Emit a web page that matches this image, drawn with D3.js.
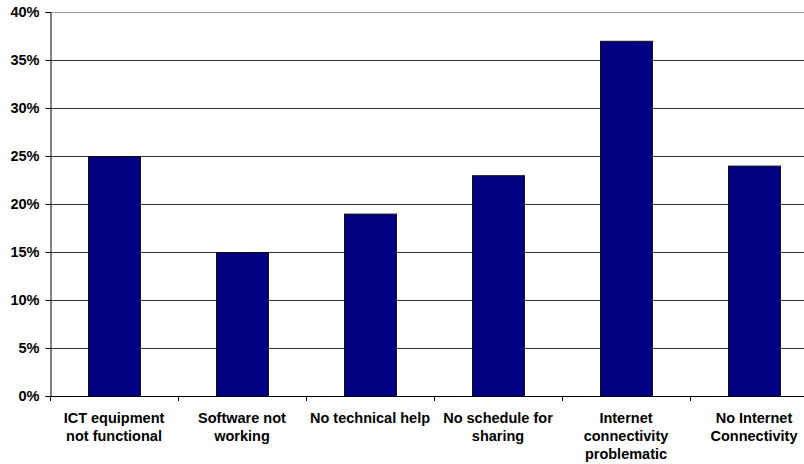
<!DOCTYPE html>
<html><head><meta charset="utf-8">
<script src="https://cdn.jsdelivr.net/npm/d3@7"></script>
<style>body{margin:0;background:#fff}svg{display:block}text{font-family:"Liberation Sans",Arial,sans-serif;font-weight:bold;font-size:14.5px;fill:#000}</style>
</head><body><svg id="c" width="804" height="464"></svg>
<script>
const categories = [["ICT equipment","not functional"],["Software not","working"],["No technical help"],["No schedule for","sharing"],["Internet","connectivity","problematic"],["No Internet","Connectivity"]];
const values = [25, 15, 19, 23, 37, 24];
const yTicks = [0, 5, 10, 15, 20, 25, 30, 35, 40];

(function(){
const svg = d3.select("#c");
const mLeft = 50, mTop = 12, mBottom = 396, bandW = 128;
const x = d3.scaleBand().domain(d3.range(values.length)).range([mLeft, mLeft + bandW * values.length]).paddingInner(0.59).paddingOuter(0.295);
const xb = d3.scaleBand().domain(d3.range(values.length)).range([mLeft, mLeft + bandW * values.length]);
const y = d3.scaleLinear().domain([0, 40]).range([mBottom, mTop]);

// gridlines
svg.append("g").selectAll("line").data(yTicks.filter(d => d > 0)).join("line")
  .attr("x1", mLeft).attr("x2", 804).attr("y1", d => y(d) + 0.5).attr("y2", d => y(d) + 0.5)
  .attr("stroke", d => d === 40 ? "#9a9a9a" : "#333").attr("stroke-width", 1);

// bars
svg.append("g").selectAll("rect").data(values).join("rect")
  .attr("x", (d, i) => Math.round(x(i)) + 0.5).attr("y", d => y(d) + 0.5)
  .attr("width", Math.round(x.bandwidth())).attr("height", d => mBottom - y(d))
  .attr("fill", "#000080").attr("stroke", "#111").attr("stroke-width", 1);

// y axis
const ya = svg.append("g").attr("transform", `translate(${mLeft + 0.5},0)`)
  .call(d3.axisLeft(y).tickValues(yTicks).tickFormat(d => d + "%").tickSize(5).tickPadding(6));
ya.select(".domain").attr("stroke", "#000");
ya.selectAll(".tick line").attr("stroke", "#000");
ya.selectAll("text").attr("font-size", 14.5).attr("font-family", "Liberation Sans, Arial, sans-serif").attr("font-weight", "bold").attr("fill", "#000");

// x axis
svg.append("line").attr("x1", mLeft).attr("x2", 804).attr("y1", mBottom + 0.5).attr("y2", mBottom + 0.5).attr("stroke", "#000");
svg.append("g").selectAll("line").data(d3.range(values.length + 1)).join("line")
  .attr("x1", i => mLeft + i * bandW + 0.5).attr("x2", i => mLeft + i * bandW + 0.5)
  .attr("y1", mBottom).attr("y2", mBottom + 5).attr("stroke", "#000");

// category labels
const lab = svg.append("g").selectAll("text").data(categories).join("text")
  .attr("text-anchor", "middle")
  .attr("x", (d, i) => xb(i) + xb.bandwidth() / 2).attr("y", 423);
lab.selectAll("tspan").data(d => d).join("tspan")
  .attr("x", function() { return this.parentNode.getAttribute("x"); })
  .attr("dy", (d, j) => j === 0 ? 0 : 18).text(d => d);
})();
</script></body></html>
